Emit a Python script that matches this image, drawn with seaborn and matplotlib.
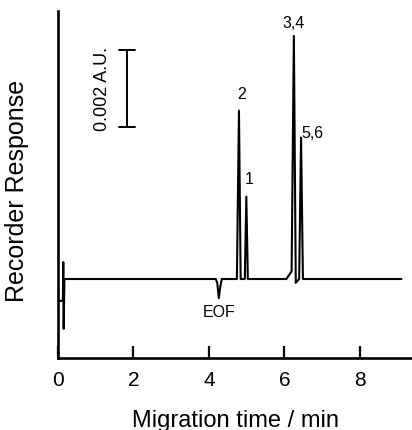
import matplotlib
matplotlib.use("Agg")
import matplotlib.pyplot as plt
import seaborn as sns

# electropherogram trace, vertices (time in min, response in A.U.)
trace_time = [0.03, 0.13, 0.14, 0.15, 0.17, 4.18, 4.22, 4.26, 4.30, 4.34,
              4.74, 4.795, 4.84, 4.95, 4.99, 5.03, 6.05, 6.12, 6.19, 6.25,
              6.30, 6.34, 6.39, 6.44, 6.49, 9.10]
trace_resp = [-0.00057, -0.00057, 0.00044, -0.0013, 0.0, 0.0, -0.0001, -0.0005,
              -0.0002, 0.0, 0.0, 0.00439, 0.0, 0.0, 0.00215, 0.0,
              0.0, 0.0001, 0.0002, 0.00634, -0.0001, -0.00005, 0.0, 0.00369,
              0.0, 0.0]

# peak labels
peak_names = ["2", "1", "3,4", "5,6", "EOF"]
peak_label_t = [4.87, 5.06, 6.23, 6.74, 4.27]
peak_label_y = [0.00485, 0.00263, 0.00668, 0.00383, -0.00084]

# scale bar
bar_t = 1.82
bar_low, bar_high = 0.00397, 0.00597
bar_text = "0.002 A.U."

x_ticks = [0, 2, 4, 6, 8]

sns.set_style("ticks")
plt.rcParams["font.family"] = ["Liberation Sans", "DejaVu Sans"]
plt.rcParams.update({"text.color": "black", "axes.labelcolor": "black",
                     "xtick.color": "black", "axes.edgecolor": "black"})

fig = plt.figure(figsize=(4.12, 4.31), dpi=100)
ax = fig.add_axes([58 / 412, 1 - 359 / 431, 1 - 58 / 412, (359 - 12) / 431])

sns.lineplot(x=trace_time, y=trace_resp, sort=False, estimator=None,
             color="black", linewidth=1.5, ax=ax)

# scale bar with caps
ax.plot([bar_t, bar_t], [bar_low, bar_high], color="black", lw=1.4)
for yy in (bar_low, bar_high):
    ax.plot([bar_t - 0.21, bar_t + 0.21], [yy, yy], color="black", lw=1.4)
ax.text(1.19, (bar_low + bar_high) / 2, bar_text, rotation=90,
        ha="center", va="center", fontsize=13)

for name, tx, ty in zip(peak_names, peak_label_t, peak_label_y):
    ax.text(tx, ty, name, ha="center", va="center", fontsize=11.5)

ax.set_xlim(0, 9.38)
ax.set_ylim(-0.00206, 0.00699)
ax.set_xticks(x_ticks)
ax.set_xticklabels([str(t) for t in x_ticks], fontsize=15)
ax.set_yticks([])
ax.tick_params(axis="x", direction="in", length=9, width=1.6, pad=9)

for side in ("top", "right"):
    ax.spines[side].set_visible(False)
for side in ("left", "bottom"):
    ax.spines[side].set_linewidth(1.9)

ax.set_xlabel("Migration time / min", fontsize=17)
ax.xaxis.set_label_coords(0.5, -0.148)
ax.set_ylabel("Recorder Response", fontsize=18)
ax.yaxis.set_label_coords(-0.082, 0.484)

fig.savefig("out.png", dpi=100)
